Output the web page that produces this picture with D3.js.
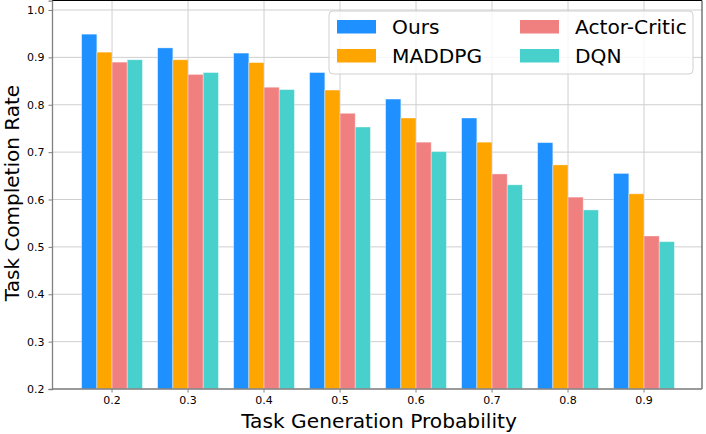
<!DOCTYPE html>
<html><head><meta charset="utf-8">
<script src="https://cdn.jsdelivr.net/npm/d3@7"></script>
<style>body{margin:0;background:#fff}svg{display:block;font-family:"DejaVu Sans",sans-serif}</style>
</head><body><svg id="c" width="706" height="434"></svg>
<script>
const categories = ["0.2","0.3","0.4","0.5","0.6","0.7","0.8","0.9"];
const seriesNames = ["Ours","MADDPG","Actor-Critic","DQN"];
const ours        = [0.949,0.920,0.909,0.868,0.812,0.772,0.720,0.655];
const maddpg      = [0.911,0.895,0.889,0.831,0.772,0.721,0.673,0.612];
const actorCritic = [0.890,0.864,0.837,0.782,0.721,0.654,0.605,0.523];
const dqn         = [0.895,0.868,0.832,0.753,0.701,0.631,0.578,0.511];
const yTicks = [0.2,0.3,0.4,0.5,0.6,0.7,0.8,0.9,1.0];
const colors = ["#1E90FF","#FFA500","#F08080","#48D1CC"];
const values = [ours, maddpg, actorCritic, dqn];

const svg = d3.select("#c");
const L = 52, R = 702, T = 0.5, B = 389;
const x = d3.scaleLinear().domain([-0.79, 7.763]).range([L, R]);
const y = d3.scaleLinear().domain([0.2, 1.02]).range([B, B - 0.82*473.75]);
const barW = x(0.2) - x(0);

// grid
const g = svg.append("g");
g.selectAll("line.gy").data(yTicks).join("line")
  .attr("x1", L).attr("x2", R).attr("y1", d => y(d)).attr("y2", d => y(d))
  .attr("stroke", "#cfcfcf").attr("stroke-width", 1);
g.selectAll("line.gx").data(categories).join("line")
  .attr("y1", T).attr("y2", B).attr("x1", (d,i) => x(i)).attr("x2", (d,i) => x(i))
  .attr("stroke", "#cfcfcf").attr("stroke-width", 1);

// bars
values.forEach((vals, s) => {
  svg.append("g").selectAll("rect").data(vals).join("rect")
    .attr("x", (d,i) => x(i - 0.4 + 0.2*s))
    .attr("width", barW)
    .attr("y", d => y(d))
    .attr("height", d => y(0.2) - y(d))
    .attr("fill", colors[s])
    .attr("stroke", "rgba(255,255,255,0.45)").attr("stroke-width", 0.8);
});

// spines
svg.append("line").attr("x1", L).attr("x2", R).attr("y1", T).attr("y2", T).attr("stroke", "#000").attr("stroke-width", 1);
svg.append("line").attr("x1", R).attr("x2", R).attr("y1", T).attr("y2", B).attr("stroke", "#333").attr("stroke-width", 1);

// axes
const yAxis = d3.axisLeft(y).tickValues(yTicks).tickFormat(d3.format(".1f")).tickSizeOuter(0).tickSize(3.5).tickPadding(4);
const ya = svg.append("g").attr("transform", `translate(${L},0)`).call(yAxis);
ya.select(".domain").attr("stroke", "#808080").attr("stroke-width", 1.3);
ya.selectAll(".tick line").attr("stroke", "#808080");
ya.selectAll("text").attr("font-size", 11).attr("fill", "#000").attr("font-family", "DejaVu Sans");

const xb = d3.scaleBand().domain(categories).range([x(-0.5), x(7.5)]);
const xAxis = d3.axisBottom(xb).tickSizeOuter(0).tickSize(3.5).tickPadding(4);
const xa = svg.append("g").attr("transform", `translate(0,${B})`).call(xAxis);
xa.select(".domain").remove();
svg.append("line").attr("x1", L).attr("x2", R).attr("y1", B).attr("y2", B).attr("stroke", "#808080").attr("stroke-width", 1.3);
xa.selectAll(".tick line").attr("stroke", "#808080");
xa.selectAll("text").attr("font-size", 11).attr("fill", "#000").attr("font-family", "DejaVu Sans");

// labels
svg.append("text").attr("x", 379).attr("y", 428).attr("text-anchor", "middle")
  .attr("font-size", 20.2).text("Task Generation Probability");
svg.append("text").attr("transform", "translate(18.5,193) rotate(-90)").attr("text-anchor", "middle")
  .attr("font-size", 20).text("Task Completion Rate");

// legend
const lg = svg.append("g");
lg.append("rect").attr("x", 329).attr("y", 11).attr("width", 364).attr("height", 63).attr("rx", 4)
  .attr("fill", "rgba(255,255,255,0.8)").attr("stroke", "#d0d0d0").attr("stroke-width", 1);
const legPos = [[337,20],[337,49],[520,20],[520,49]];
seriesNames.forEach((n, s) => {
  const [lx, ly] = legPos[s];
  lg.append("rect").attr("x", lx).attr("y", ly).attr("width", 39).attr("height", 13.5).attr("fill", colors[s]);
  lg.append("text").attr("x", lx + 55).attr("y", ly + 13.5).attr("font-size", 20.2).text(n);
});
</script></body></html>
